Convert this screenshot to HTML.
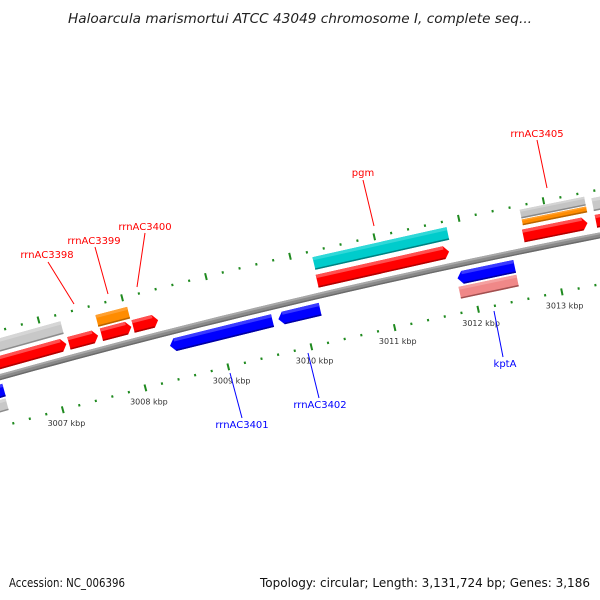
<!DOCTYPE html>
<html><head><meta charset="utf-8"><style>
html,body{margin:0;padding:0;background:#fff}
svg{display:block;font-family:"DejaVu Sans","Liberation Sans",sans-serif}
</style></head><body>
<svg id="map" width="600" height="600" viewBox="0 0 600 600" xmlns="http://www.w3.org/2000/svg">
<rect width="600" height="600" fill="#fff"/>
<text x="68" y="23" font-size="13" font-style="italic" fill="#222" textLength="464" lengthAdjust="spacingAndGlyphs">Haloarcula marismortui ATCC 43049 chromosome I, complete seq...</text>
<g id="backbone-layer"></g>
<g id="tick-layer"></g>
<g id="feature-layer"></g>
<g id="label-layer"></g>
<text x="9" y="587" font-size="12" fill="#111" textLength="116" lengthAdjust="spacingAndGlyphs">Accession: NC_006396</text>
<text x="260" y="587" font-size="12" fill="#111" textLength="330" lengthAdjust="spacingAndGlyphs">Topology: circular; Length: 3,131,724 bp; Genes: 3,186</text>
</svg>
<script>
// data (kbp positions)
const tickStart = 3005.0;
const tickEnd = 3014.2;
const majorTicks = [3007, 3008, 3009, 3010, 3011, 3012, 3013];
const majorTickLabels = ["3007 kbp","3008 kbp","3009 kbp","3010 kbp","3011 kbp","3012 kbp","3013 kbp"];
const featureStarts = [3005.3, 3007.27, 3007.66, 3008.04, 3010.24, 3012.69, 3013.55, 3005.3, 3007.65, 3010.25, 3012.71, 3012.71, 3013.55, 3005.3, 3008.40, 3009.70, 3011.84, 3005.3, 3011.83];
const featureEnds   = [3007.24, 3007.62, 3008.02, 3008.34, 3011.81, 3013.45, 3014.5, 3007.24, 3008.03, 3011.84, 3013.47, 3013.47, 3014.5, 3006.40, 3009.63, 3010.20, 3012.52, 3006.39, 3012.52];
const featureKinds  = ["red","red","red","red","red","red","red","gray","orange","cyan","graythin","orangethin","gray","blue","blue","blue","blue","gray2","pink"];
const featureArrow  = [1,1,1,1,1,1,0,0,0,0,0,0,0,-1,-1,-1,-1,0,0];
const fwdLabels = ["rrnAC3398","rrnAC3399","rrnAC3400","pgm","rrnAC3405"];
const revLabels = ["rrnAC3401","rrnAC3402","kptA"];

// geometry
const CX = 2138.6, CY = 8086, R = 8000, PHI0 = -103.3*Math.PI/180;
function phi(k){ return PHI0 + (-83.8 + (k-3009)*86)/R; }
function P(k, off){ const a = phi(k), r = R+off; return [CX + r*Math.cos(a), CY + r*Math.sin(a)]; }
const NS = "http://www.w3.org/2000/svg";
function mk(tag, parent, attrs){ const e = document.createElementNS(NS, tag); for (const a in attrs) e.setAttribute(a, attrs[a]); parent.appendChild(e); return e; }
function pts(arr){ return arr.map(p=>p[0].toFixed(1)+","+p[1].toFixed(1)).join(" "); }

// backbone
const bb = document.getElementById('backbone-layer');
function band(k0,k1,o0,o1,fill,parent){ const a=[]; for(let k=k0;k<=k1+1e-9;k+=0.25) a.push(P(k,o1)); for(let k=k1;k>=k0-1e-9;k-=0.25) a.push(P(k,o0)); return mk('polygon',parent,{points:pts(a),fill:fill}); }
let e = band(3004.8,3014.8,-3,3,'#8a8a8a',bb);
 
e = band(3004.8,3014.8,1,3,'#a8a8a8',bb);
 
e = band(3004.8,3014.8,-3,-1.6,'#6a6a6a',bb);
 

// ticks
const tl = document.getElementById('tick-layer');
for (let i=0; i<=Math.round((tickEnd-tickStart)/0.2); i++){
  const k = tickStart + i*0.2;
  const isMajor = Math.abs(k-Math.round(k))<1e-6;
  [45,-48].forEach(off=>{
    const h = isMajor?3.5:1.2;
    const a = P(k,off-h), b = P(k,off+h);
    const ln = mk('line',tl,{x1:a[0],y1:a[1],x2:b[0],y2:b[1],stroke:'#1f8a1f','stroke-width':2});
    
    
  });
}
majorTicks.forEach((k,i)=>{
  const p = P(k,-62);
  const t = mk('text',tl,{x:p[0],y:p[1]+3,'font-size':8,'text-anchor':'middle',fill:'#333'});
  t.textContent = majorTickLabels[i];
  
  
});

// features
const lanes = {red:[8,21],gray:[25,38],orange:[23,35],cyan:[26,39],graythin:[32,41],orangethin:[25,31],blue:[-20,-7],gray2:[-34,-22],pink:[-34,-22]};
const colors = {red:['#ff0000','#ff5050','#b00000'],gray:['#c8c8c8','#d6d6d6','#8c8c8c'],gray2:['#c8c8c8','#d6d6d6','#8c8c8c'],graythin:['#c4c4c4','#d4d4d4','#888'],orange:['#ff8c00','#ffa030','#b86400'],orangethin:['#ff8c00','#ffa030','#b86400'],cyan:['#00cccc','#30d8d8','#008080'],blue:['#0000ff','#3a3aff','#0000a0'],pink:['#f08888','#f4a0a0','#a05050']};
const fl = document.getElementById('feature-layer');
function shape(k0,k1,o0,o1,dir){
  const tip = 5/86, m=(o0+o1)/2;
  if (dir===1) return [P(k0,o1),P(k1-tip,o1),P(k1,m),P(k1-tip,o0),P(k0,o0)];
  if (dir===-1) return [P(k0+tip,o1),P(k1,o1),P(k1,o0),P(k0+tip,o0),P(k0,m)];
  return [P(k0,o1),P(k1,o1),P(k1,o0),P(k0,o0)];
}
featureStarts.forEach((k0,i)=>{
  const k1 = featureEnds[i], kind = featureKinds[i], ln = lanes[kind], c = colors[kind], d = featureArrow[i];
  const g = mk('g',fl,{});
  
  
  mk('polygon',g,{points:pts(shape(k0,k1,ln[0],ln[1],d)),fill:c[0]});
  const h = (ln[1]-ln[0]);
  const tipk = d===1?5/86:0, tipk0 = d===-1?5/86:0;
  mk('polygon',g,{points:pts(shape(k0+tipk0,k1-tipk,ln[1]-h*0.25,ln[1],0)),fill:c[1]});
  mk('polygon',g,{points:pts(shape(k0+tipk0,k1-tipk,ln[0],ln[0]+1.5,0)),fill:c[2]});
});

// labels (text position, leader line start, leader line end)
const fwdPos = [[47,258],[94,244],[145,230],[363,176],[537,137]];
const fwdLine = [[48,262,74,304],[95,247,108,294],[145,233,137,287],[363,180,374,226],[537,140,547,188]];
const revPos = [[242,428],[320,408],[505,367]];
const revLine = [[230,373,242,418],[308,353,319,398],[494,311,503,357]];
const ll = document.getElementById('label-layer');
fwdLabels.forEach((s,i)=>{
  const l = fwdLine[i];
  const ln = mk('line',ll,{x1:l[0],y1:l[1],x2:l[2],y2:l[3],stroke:'#ff0000','stroke-width':1});
  
  
  const t = mk('text',ll,{x:fwdPos[i][0],y:fwdPos[i][1],'font-size':10,'text-anchor':'middle',fill:'#ff0000'});
  t.textContent = s;
  
  
});
revLabels.forEach((s,i)=>{
  const l = revLine[i];
  const ln = mk('line',ll,{x1:l[0],y1:l[1],x2:l[2],y2:l[3],stroke:'#0000ff','stroke-width':1});
  
  
  const t = mk('text',ll,{x:revPos[i][0],y:revPos[i][1],'font-size':10,'text-anchor':'middle',fill:'#0000ff'});
  t.textContent = s;
  
  
});
</script>
</body></html>
